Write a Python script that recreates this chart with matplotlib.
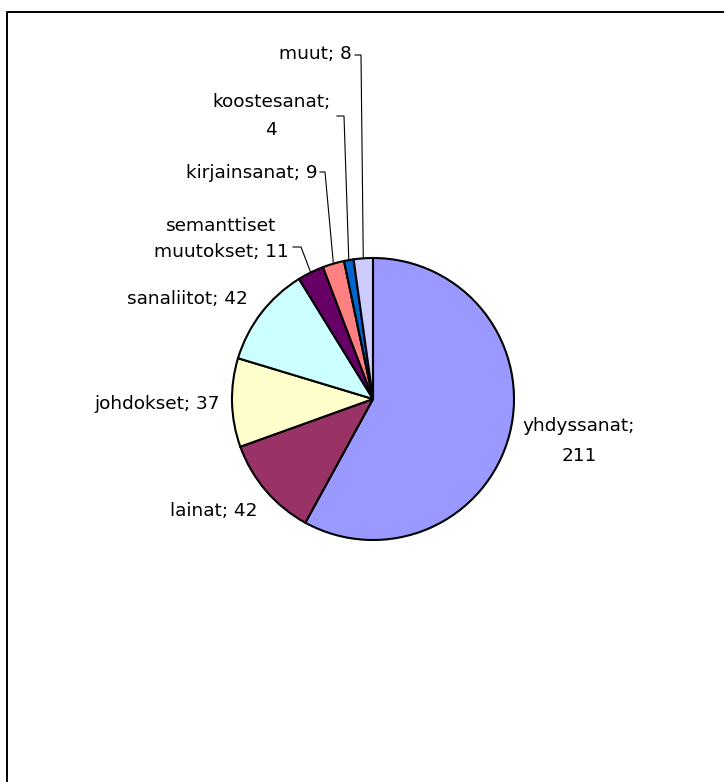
import numpy as np
import matplotlib
matplotlib.use("Agg")
import matplotlib.pyplot as plt
from matplotlib.lines import Line2D

# Word-formation categories and counts
categories = ["yhdyssanat", "lainat", "johdokset", "sanaliitot",
              "semanttiset muutokset", "kirjainsanat", "koostesanat", "muut"]
counts = [211, 42, 37, 42, 11, 9, 4, 8]
colors = ["#9999FF", "#993366", "#FFFFCC", "#CCFFFF",
          "#660066", "#FF8080", "#0066CC", "#CCCCFF"]

W, H = 724, 782
fig = plt.figure(figsize=(W / 100, H / 100), dpi=100)
ax = fig.add_axes([0, 0, 1, 1])


def py(y):
    """Top-down pixel row to axes y."""
    return H - y


cx, cy, r = 373, py(399), 141
ax.pie(counts, colors=colors, startangle=90, counterclock=False,
       center=(cx, cy), radius=r,
       wedgeprops=dict(edgecolor="black", linewidth=1.5))
ax.set_xlim(0, W)
ax.set_ylim(0, H)
ax.set_aspect("auto")
ax.axis("off")

# Chart area border (runs off the right and bottom edge)
ax.add_line(Line2D([7, 7, W + 5], [py(H + 5), py(12), py(12)],
                   color="black", lw=1.4))

# Label layout: text anchor, alignment, line breaks, optional leader knee
layout = {
    "yhdyssanat": dict(xy=(579, 441), ha="center", brk=True, ls=1.85),
    "lainat": dict(xy=(214, 511), ha="center"),
    "johdokset": dict(xy=(220, 404), ha="right"),
    "sanaliitot": dict(xy=(248, 299), ha="right"),
    "semanttiset muutokset": dict(xy=(221, 239), ha="center", brk=True,
                                  ls=1.55, leader=(293, 301, 247)),
    "kirjainsanat": dict(xy=(317, 173), ha="right", leader=(320, 325, 172)),
    "koostesanat": dict(xy=(271, 116), ha="center", brk=True, ls=1.75,
                        leader=(337, 344, 116)),
    "muut": dict(xy=(352, 54), ha="right", leader=(355, 361, 55)),
}

total = sum(counts)
start = 90.0
for name, val in zip(categories, counts):
    span = 360.0 * val / total
    mid = np.deg2rad(start - span / 2)
    start -= span
    spec = layout[name]
    label = f"{name}; {val}"
    if spec.get("brk"):
        if name == "semanttiset muutokset":
            label = label.replace(" ", "\n", 1)
        else:
            label = label.replace("; ", ";\n")
    x, y = spec["xy"]
    ax.text(x, py(y), label, ha=spec["ha"], va="center",
            multialignment="center", fontsize=13.3,
            family="DejaVu Sans", color="black",
            linespacing=spec.get("ls", 1.2))
    if "leader" in spec:
        x0, x1, yl = spec["leader"]
        ex, ey = cx + r * np.cos(mid), cy + r * np.sin(mid)
        ax.add_line(Line2D([x0, x1, ex], [py(yl), py(yl), ey],
                           color="black", lw=0.8))

fig.savefig("out.png", dpi=100)
